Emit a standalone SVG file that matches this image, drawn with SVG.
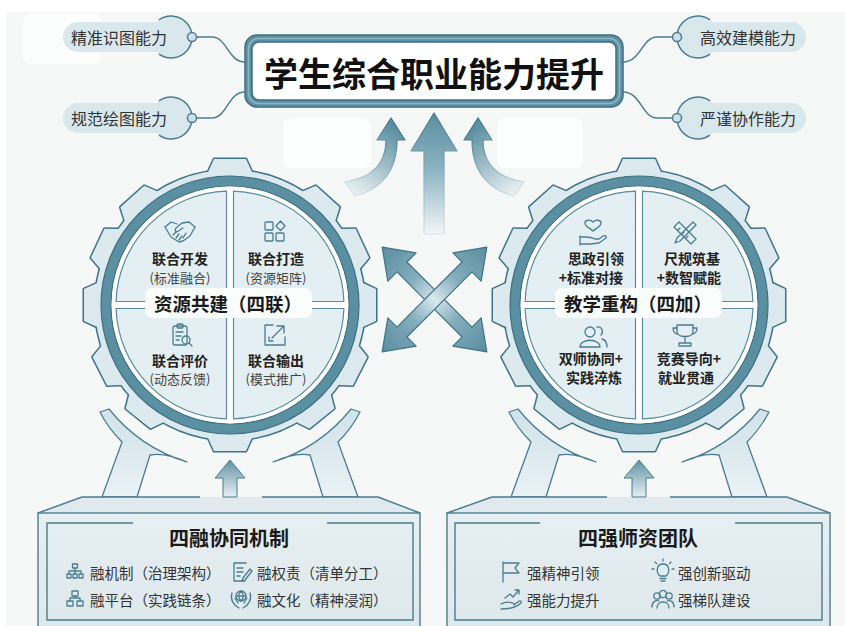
<svg xmlns="http://www.w3.org/2000/svg" xmlns:xlink="http://www.w3.org/1999/xlink" width="845" height="626" viewBox="0 0 845 626" font-family="'Noto Sans CJK SC','Noto Sans',sans-serif">
  <style>
    .ic{fill:none;stroke:#4b7d90;stroke-width:1.3;stroke-linecap:round;stroke-linejoin:round}
    .pill{fill:#d9e8ed}
    .pill-arc{fill:none;stroke:#4b7d90;stroke-width:1.5}
    .dot{fill:#cfe1e7;stroke:#4b7d90;stroke-width:1.5}
    .link{fill:none;stroke:#4b7d90;stroke-width:1.5}
    .skill{font-size:16px;fill:#333}
    .thin{fill:none;stroke:#3d7083;stroke-width:1.2}
    .qt{font-size:14px;font-weight:700;fill:#222}
    .qs{font-size:13px;fill:#444}
    .lbl{font-size:18.5px;font-weight:700;fill:#1a1a1a}
    .bt{font-size:20px;font-weight:700;fill:#1a1a1a}
    .item{font-size:14.5px;fill:#333}
    .edge{fill:none;stroke:#4b7d90;stroke-width:1.4}
  </style>
  <defs>
    <polygon id="tooth" points="-24,-128 -21,-135 -16,-146 16,-146 21,-135 24,-128"/>
    <g id="gearBody">
      <circle r="135"/>
      <use href="#tooth"/>
      <use href="#tooth" transform="rotate(42)"/>
      <use href="#tooth" transform="rotate(65)"/>
      <use href="#tooth" transform="rotate(90)"/>
      <use href="#tooth" transform="rotate(117)"/>
      <use href="#tooth" transform="rotate(141)"/>
      <use href="#tooth" transform="rotate(180)"/>
      <use href="#tooth" transform="rotate(219)"/>
      <use href="#tooth" transform="rotate(243)"/>
      <use href="#tooth" transform="rotate(270)"/>
      <use href="#tooth" transform="rotate(295)"/>
      <use href="#tooth" transform="rotate(318)"/>
    </g>
    <g id="quads">
      <path d="M-3.5 -3.5 V-113.9 A114 114 0 0 0 -113.9 -3.5 Z"/>
      <path d="M3.5 -3.5 V-113.9 A114 114 0 0 1 113.9 -3.5 Z"/>
      <path d="M-3.5 3.5 V113.9 A114 114 0 0 1 -113.9 3.5 Z"/>
      <path d="M3.5 3.5 V113.9 A114 114 0 0 0 113.9 3.5 Z"/>
    </g>
    <linearGradient id="armGrad" gradientUnits="userSpaceOnUse" x1="0" y1="405" x2="0" y2="497">
      <stop offset="0" stop-color="#cfe2ea"/>
      <stop offset="1" stop-color="#eaf2f5"/>
    </linearGradient>
    <g id="arms" fill="url(#armGrad)" stroke="#4b7d90" stroke-width="1.3" stroke-linejoin="round">
      <path d="M100 412 L109 409 A160 160 0 0 0 187 462 Q165 452 150 455 L137 497 L102 497 L122 442 Q108 428 100 412 Z"/>
      <path d="M360 412 L351 409 A160 160 0 0 1 273 462 Q295 452 310 455 L323 497 L358 497 L338 442 Q352 428 360 412 Z"/>
    </g>
    <linearGradient id="boxGrad" x1="0" y1="0" x2="0" y2="1">
      <stop offset="0" stop-color="#e6eff2"/>
      <stop offset="1" stop-color="#dde8ec"/>
    </linearGradient>
    <linearGradient id="upGrad" gradientUnits="userSpaceOnUse" x1="0" y1="113" x2="0" y2="234">
      <stop offset="0" stop-color="#5a8ea0"/>
      <stop offset="0.45" stop-color="#8ab2c0"/>
      <stop offset="1" stop-color="#f2f6f7"/>
    </linearGradient>
    <linearGradient id="upStroke" gradientUnits="userSpaceOnUse" x1="0" y1="113" x2="0" y2="234">
      <stop offset="0" stop-color="#3f7488"/>
      <stop offset="1" stop-color="#d5e4e9"/>
    </linearGradient>
    <linearGradient id="curlL" gradientUnits="userSpaceOnUse" x1="391" y1="125" x2="348" y2="192">
      <stop offset="0" stop-color="#5a8ea0"/>
      <stop offset="1" stop-color="#eef4f6"/>
    </linearGradient>
    <linearGradient id="curlLs" gradientUnits="userSpaceOnUse" x1="391" y1="125" x2="348" y2="192">
      <stop offset="0" stop-color="#3f7488"/>
      <stop offset="1" stop-color="#d5e4e9"/>
    </linearGradient>
    <linearGradient id="curlR" gradientUnits="userSpaceOnUse" x1="478" y1="125" x2="521" y2="192">
      <stop offset="0" stop-color="#5a8ea0"/>
      <stop offset="1" stop-color="#eef4f6"/>
    </linearGradient>
    <linearGradient id="curlRs" gradientUnits="userSpaceOnUse" x1="478" y1="125" x2="521" y2="192">
      <stop offset="0" stop-color="#3f7488"/>
      <stop offset="1" stop-color="#d5e4e9"/>
    </linearGradient>
    <linearGradient id="xGrad" x1="0" y1="0" x2="1" y2="0">
      <stop offset="0" stop-color="#5a8ea0"/>
      <stop offset="0.3" stop-color="#82adbc"/>
      <stop offset="0.5" stop-color="#d9e8ed"/>
      <stop offset="0.7" stop-color="#82adbc"/>
      <stop offset="1" stop-color="#5a8ea0"/>
    </linearGradient>
    <linearGradient id="smallUp" x1="0" y1="0" x2="0" y2="1">
      <stop offset="0" stop-color="#5f93a4"/>
      <stop offset="1" stop-color="#e8f0f3"/>
    </linearGradient>
    <polygon id="dblArrow" points="-74,0 -46,-20 -46,-7 46,-7 46,-20 74,0 46,20 46,7 -46,7 -46,20"/>
  </defs>

  <!-- page background -->
  <rect width="845" height="626" fill="#ffffff"/>
  <rect x="6" y="12" width="839" height="614" fill="#f6f7f7"/>
  <rect x="23" y="14" width="78" height="50" rx="6" fill="#fcfdfd"/>
  <rect x="283" y="118" width="88" height="50" rx="8" fill="#fdfefe"/>
  <rect x="497" y="118" width="86" height="50" rx="8" fill="#fdfefe"/>

  <!-- goal box -->
  <g id="title">
    <rect x="245" y="35" width="378" height="72" rx="12" fill="#5d90a2" stroke="#3d6f82" stroke-width="1.5"/>
    <rect x="248.5" y="38.5" width="371" height="65" rx="10" fill="none" stroke="#8fb7c5" stroke-width="1.5"/>
    <rect x="252" y="42" width="364" height="58" rx="7" fill="#ffffff" stroke="#3d6f82" stroke-width="1.5"/>
    <text x="434" y="72" text-anchor="middle" dominant-baseline="central" font-size="34" font-weight="700" fill="#111">学生综合职业能力提升</text>
  </g>

  <!-- ability tags -->
  <g id="skill-1">
    <rect class="pill" x="63" y="22" width="115" height="30" rx="15"/>
    <circle class="pill" cx="171" cy="37" r="21"/>
    <path class="pill-arc" d="M159 19.8 A21 21 0 1 1 159 54.2"/>
    <circle class="dot" cx="192" cy="37" r="4.5"/>
    <text class="skill" x="119" y="37" text-anchor="middle" dominant-baseline="central">精准识图能力</text>
  </g>
  <g id="skill-2">
    <rect class="pill" x="63" y="103" width="115" height="30" rx="15"/>
    <circle class="pill" cx="171" cy="118" r="21"/>
    <path class="pill-arc" d="M159 100.8 A21 21 0 1 1 159 135.2"/>
    <circle class="dot" cx="192" cy="118" r="4.5"/>
    <text class="skill" x="119" y="118" text-anchor="middle" dominant-baseline="central">规范绘图能力</text>
  </g>
  <g id="skill-3">
    <rect class="pill" x="691" y="22" width="115" height="30" rx="15"/>
    <circle class="pill" cx="698" cy="37" r="21"/>
    <path class="pill-arc" d="M710 19.8 A21 21 0 1 0 710 54.2"/>
    <circle class="dot" cx="677" cy="37" r="4.5"/>
    <text class="skill" x="748" y="37" text-anchor="middle" dominant-baseline="central">高效建模能力</text>
  </g>
  <g id="skill-4">
    <rect class="pill" x="691" y="103" width="115" height="30" rx="15"/>
    <circle class="pill" cx="698" cy="118" r="21"/>
    <path class="pill-arc" d="M710 100.8 A21 21 0 1 0 710 135.2"/>
    <circle class="dot" cx="677" cy="118" r="4.5"/>
    <text class="skill" x="748" y="118" text-anchor="middle" dominant-baseline="central">严谨协作能力</text>
  </g>

  <!-- foundation: collaboration mechanism -->
  <g id="base-left">
    <use href="#arms"/>
    <polygon points="82,497 378,497 420,513 38,513" fill="#dfe9ee"/>
    <path class="edge" d="M82 497 L38 513 M378 497 L420 513 M82 497 H200 M262 497 H378"/>
    <rect x="38" y="513" width="382" height="130" fill="url(#boxGrad)" stroke="#4b7d90" stroke-width="1.4"/>
    <path class="edge" d="M133 523 H47 V620 H413 V523 H327"/>
    <text class="bt" x="229" y="537" text-anchor="middle" dominant-baseline="central">四融协同机制</text>
    <g class="ic" transform="translate(75,572)">
      <rect x="-2.5" y="-8" width="5" height="4"/>
      <path d="M0 -4 V-1 M-6 -1 H6 M-6 -1 V2 M0 -1 V2 M6 -1 V2"/>
      <rect x="-8" y="2" width="4" height="4"/><rect x="-2" y="2" width="4" height="4"/><rect x="4" y="2" width="4" height="4"/>
    </g>
    <text class="item" x="90" y="572" dominant-baseline="central">融机制（治理架构）</text>
    <g class="ic" transform="translate(241,572)">
      <path d="M5 -9 H-7 V9 H4"/>
      <path d="M-4 -4 H2 M-4 0 H2 M-4 4 H-1"/>
      <path d="M9 -3 L2 6 L1 9 L4 8 L11 -1 Z"/>
    </g>
    <text class="item" x="257" y="572" dominant-baseline="central">融权责（清单分工）</text>
    <g class="ic" transform="translate(75,599)">
      <rect x="-3" y="-8" width="6" height="5"/>
      <path d="M0 -3 V-1 M-5 -1 H5 M-5 -1 V2 M5 -1 V2"/>
      <rect x="-8" y="2" width="6" height="5"/><rect x="2" y="2" width="6" height="5"/>
    </g>
    <text class="item" x="90" y="599" dominant-baseline="central">融平台（实践链条）</text>
    <g class="ic" transform="translate(241,599)">
      <circle cx="0" cy="-3" r="5"/>
      <path d="M-5 -3 H5 M0 -8 C-3 -5 -3 -1 0 2 M0 -8 C3 -5 3 -1 0 2"/>
      <path d="M-9 -6 C-11 0 -8 6 -2 9 M9 -6 C11 0 8 6 2 9 M-6 -1 L-3 4 M6 -1 L3 4"/>
    </g>
    <text class="item" x="257" y="599" dominant-baseline="central">融文化（精神浸润）</text>
  </g>

  <!-- foundation: teaching team -->
  <g id="base-right">
    <use href="#arms" transform="translate(409,0)"/>
    <polygon points="492,497 787,497 830,513 447,513" fill="#dfe9ee"/>
    <path class="edge" d="M492 497 L447 513 M787 497 L830 513 M492 497 H607 M670 497 H787"/>
    <rect x="447" y="513" width="383" height="130" fill="url(#boxGrad)" stroke="#4b7d90" stroke-width="1.4"/>
    <path class="edge" d="M540 523 H455 V620 H822 V523 H735"/>
    <text class="bt" x="638" y="537" text-anchor="middle" dominant-baseline="central">四强师资团队</text>
    <g class="ic" transform="translate(511,572)">
      <path d="M-8 10 V-10 M-8 -9 H8 L4 -4 L8 1 H-8"/>
    </g>
    <text class="item" x="527" y="572" font-size="15" dominant-baseline="central">强精神引领</text>
    <g class="ic" transform="translate(663,572)">
      <path d="M-3 4 C-7 1 -7 -8 0 -8 C7 -8 7 1 3 4 Z M-3 6.5 H3 M-2 9 H2"/>
      <path d="M-11 -3 H-9 M9 -3 H11 M-8 -10 L-6.5 -8.5 M8 -10 L6.5 -8.5 M0 -13 V-11"/>
    </g>
    <text class="item" x="678" y="572" font-size="15" dominant-baseline="central">强创新驱动</text>
    <g class="ic" transform="translate(511,599)">
      <path d="M-10 5 C-5 2 0 3 4 5 M-10 10 C-3 10 5 9 10 4 C11 2 9 1 7 3 L3 6"/>
      <path d="M-6 -1 L-1 -5 L2 -2 L8 -9 M4 -9 H8 V-5"/>
    </g>
    <text class="item" x="527" y="599" font-size="15" dominant-baseline="central">强能力提升</text>
    <g class="ic" transform="translate(663,599)">
      <circle cx="-6" cy="-3" r="3.2"/><circle cx="6" cy="-3" r="3.2"/><circle cx="0" cy="-5" r="3.6"/>
      <path d="M-11 8 C-11 2 -7 1 -4 2 M11 8 C11 2 7 1 4 2 M-6 9 C-6 1 6 1 6 9"/>
    </g>
    <text class="item" x="678" y="599" font-size="15" dominant-baseline="central">强梯队建设</text>
  </g>

  <!-- gear: shared resources -->
  <g id="gear-left">
    <g transform="translate(230,305)">
      <use href="#gearBody" fill="#3f7488" stroke="#3f7488" stroke-width="3" stroke-linejoin="round"/>
      <use href="#gearBody" fill="#dce9ee"/>
      <circle r="124" fill="none" stroke="#5b90a2" stroke-width="10"/>
      <circle class="thin" r="129"/>
      <circle class="thin" r="119"/>
      <circle r="118.4" fill="#ffffff"/>
      <use href="#quads" fill="#e4eff3" stroke="#5a8a9c" stroke-width="1.2"/>
    </g>
    <g class="ic" transform="translate(180,232)">
      <path d="M-15 -5 L-9 -10 L-3 -8"/>
      <path d="M15 -5 L9 -10 L2 -9 L-4 -4 Q-6 -1 -3 0 L3 -4"/>
      <path d="M-15 -5 L-9 5 M15 -5 L10 4 L3 9 L-1 10 L-9 5"/>
      <path d="M-7 3 L-4 0 M-4 6 L-1 2 M-1 8 L2 4 M3 6 L6 1"/>
    </g>
    <text class="qt" x="180" y="258" text-anchor="middle" dominant-baseline="central">联合开发</text>
    <text class="qs" x="180" y="277" text-anchor="middle" dominant-baseline="central">(标准融合)</text>
    <g class="ic" transform="translate(275,232)">
      <rect x="-10" y="-10" width="8" height="8" rx="1"/>
      <rect x="-10" y="1" width="8" height="8" rx="1"/>
      <rect x="1" y="1" width="8" height="8" rx="1"/>
      <path d="M5.5 -11 L10 -6 L5.5 -1.5 L1 -6 Z"/>
    </g>
    <text class="qt" x="276" y="258" text-anchor="middle" dominant-baseline="central">联合打造</text>
    <text class="qs" x="276" y="277" text-anchor="middle" dominant-baseline="central">(资源矩阵)</text>
    <g class="ic" transform="translate(182,335)">
      <rect x="-9" y="-9" width="14" height="19" rx="2"/>
      <rect x="-5" y="-11" width="6" height="4" rx="1"/>
      <path d="M-6 -3 H1 M-6 1 H-1 M-6 5 H-3"/>
      <circle cx="4" cy="5" r="4"/>
      <path d="M7 8 L10 11"/>
    </g>
    <text class="qt" x="180" y="360" text-anchor="middle" dominant-baseline="central">联合评价</text>
    <text class="qs" x="180" y="378" text-anchor="middle" dominant-baseline="central">(动态反馈)</text>
    <g class="ic" transform="translate(275,335)">
      <path d="M-2 -10 H-10 V10 H10 V2"/>
      <path d="M-3 3 L9 -9 M2 -9 H9 V-2"/>
      <path d="M-6 2 V6 H-2"/>
    </g>
    <text class="qt" x="276" y="360" text-anchor="middle" dominant-baseline="central">联合输出</text>
    <text class="qs" x="276" y="378" text-anchor="middle" dominant-baseline="central">(模式推广)</text>
    <rect x="145" y="288" width="167" height="30" rx="7" fill="#fbfdfd"/>
    <text class="lbl" x="228" y="303" text-anchor="middle" dominant-baseline="central">资源共建（四联）</text>
  </g>

  <!-- gear: teaching reform -->
  <g id="gear-right">
    <g transform="translate(639,305)">
      <use href="#gearBody" fill="#3f7488" stroke="#3f7488" stroke-width="3" stroke-linejoin="round"/>
      <use href="#gearBody" fill="#dce9ee"/>
      <circle r="124" fill="none" stroke="#5b90a2" stroke-width="10"/>
      <circle class="thin" r="129"/>
      <circle class="thin" r="119"/>
      <circle r="118.4" fill="#ffffff"/>
      <use href="#quads" fill="#e4eff3" stroke="#5a8a9c" stroke-width="1.2"/>
    </g>
    <g class="ic" transform="translate(593,233)">
      <path d="M0 -2 C-3 -5 -8 -6 -8 -10 C-8 -13 -3 -14 0 -11 C3 -14 8 -13 8 -10 C8 -6 3 -5 0 -2 Z"/>
      <path d="M-13 3 V12 M-13 4 H-7 C-3 4 0 5 2 6 H6 M-13 11 H-3 L6 10 L13 5 C14 3 12 2 10 3 L6 6"/>
    </g>
    <text class="qt" x="596" y="258" text-anchor="middle" dominant-baseline="central">思政引领</text>
    <text class="qt" x="591" y="277" text-anchor="middle" dominant-baseline="central">+标准对接</text>
    <g class="ic" transform="translate(685,233)">
      <path d="M-11 -6 L-6 -11 L11 6 L6 11 Z M-7 -3 L-5 -5 M-3 1 L-1 -1 M1 5 L3 3"/>
      <path d="M8 -11 L11 -8 L-5 8 L-10 10 L-8 5 Z"/>
    </g>
    <text class="qt" x="692" y="258" text-anchor="middle" dominant-baseline="central">尺规筑基</text>
    <text class="qt" x="689" y="277" text-anchor="middle" dominant-baseline="central">+数智赋能</text>
    <g class="ic" transform="translate(593,337)">
      <circle cx="-3" cy="-5" r="5"/>
      <path d="M-13 10 C-13 1 7 1 7 10 Z"/>
      <path d="M4 -10 C9 -11 11 -5 8 -2 M9 2 C13 3 14 6 14 10"/>
    </g>
    <text class="qt" x="591" y="358" text-anchor="middle" dominant-baseline="central">双师协同+</text>
    <text class="qt" x="594" y="377" text-anchor="middle" dominant-baseline="central">实践淬炼</text>
    <g class="ic" transform="translate(685,336)">
      <path d="M-8 -11 H8 V-4 C8 2 -8 2 -8 -4 Z"/>
      <path d="M-8 -8 H-12 C-12 -3 -9 -2 -7 -2 M8 -8 H12 C12 -3 9 -2 7 -2"/>
      <path d="M0 1 V6 M-6 10 H6 V7 H-6 Z"/>
    </g>
    <text class="qt" x="689" y="358" text-anchor="middle" dominant-baseline="central">竞赛导向+</text>
    <text class="qt" x="686" y="377" text-anchor="middle" dominant-baseline="central">就业贯通</text>
    <rect x="555" y="288" width="167" height="30" rx="7" fill="#fbfdfd"/>
    <text class="lbl" x="638" y="303" text-anchor="middle" dominant-baseline="central">教学重构（四加）</text>
  </g>

  <!-- connectors -->
  <g id="connectors">
    <path class="link" d="M196.5 37 H212 C227 37 228 62 245 62"/>
    <path class="link" d="M196.5 118 H212 C227 118 228 92 245 92"/>
    <path class="link" d="M672.5 37 H657 C642 37 641 62 623 62"/>
    <path class="link" d="M672.5 118 H657 C642 118 641 92 623 92"/>

    <path d="M434 113 L457 151 L444 151 L444 234 L424 234 L424 151 L411 151 Z" fill="url(#upGrad)" stroke="url(#upStroke)" stroke-width="1.2" stroke-linejoin="round"/>
    <path d="M391 118 L405 140 L397 140 C397 172 380 190 355 196 L345 182 C370 178 386 165 386 140 L377 140 Z" fill="url(#curlL)" stroke="url(#curlLs)" stroke-width="1.2" stroke-linejoin="round"/>
    <path d="M478 118 L464 140 L472 140 C472 172 489 190 514 196 L524 182 C499 178 483 165 483 140 L492 140 Z" fill="url(#curlR)" stroke="url(#curlRs)" stroke-width="1.2" stroke-linejoin="round"/>

    <use href="#dblArrow" transform="translate(434.5,299.5) rotate(45)" fill="url(#xGrad)" stroke="#3f7488" stroke-width="1.2" stroke-linejoin="round"/>
    <use href="#dblArrow" transform="translate(434.5,299.5) rotate(-45)" fill="url(#xGrad)" stroke="#3f7488" stroke-width="1.2" stroke-linejoin="round"/>

    <path d="M230 460 L245 478 L237 478 L237 497 L223 497 L223 478 L215 478 Z" fill="url(#smallUp)" stroke="#4b7d90" stroke-width="1" stroke-linejoin="round"/>
    <path d="M639 460 L654 478 L646 478 L646 497 L632 497 L632 478 L624 478 Z" fill="url(#smallUp)" stroke="#4b7d90" stroke-width="1" stroke-linejoin="round"/>
  </g>
</svg>
